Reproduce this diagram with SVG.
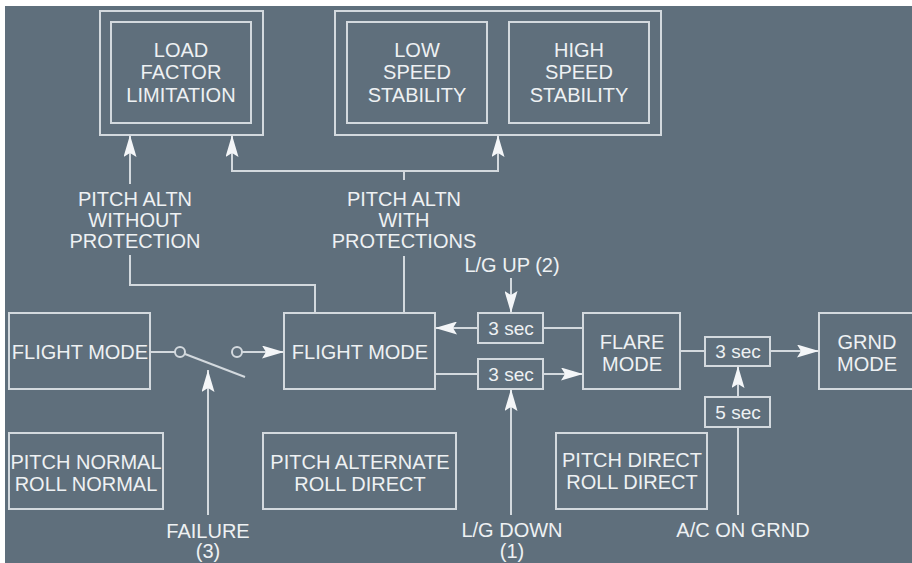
<svg xmlns="http://www.w3.org/2000/svg" width="912" height="563" viewBox="0 0 912 563">
<defs>
<style>
.bg{fill:#5f6f7c}
.box{fill:none;stroke:#d3d9de;stroke-width:2}
.ln{fill:none;stroke:#d3d9de;stroke-width:2}
.ah{fill:#f4f6f8;stroke:none}
text{font-family:"Liberation Sans",Arial,sans-serif;font-size:20px;fill:#eef1f3;text-anchor:middle;dominant-baseline:central}
.sm{font-size:19px}
</style>
<marker id="arr" viewBox="0 0 22 13" refX="22" refY="6.5" markerWidth="22" markerHeight="13" markerUnits="userSpaceOnUse" orient="auto">
<path d="M0,0 L22,6.5 L0,13 L4,6.5 Z" class="ah"/>
</marker>
</defs>
<rect x="0" y="0" width="912" height="563" fill="#ffffff"/>
<rect x="5" y="6" width="907" height="557" class="bg"/>

<g id="load-factor">
<rect x="100" y="11" width="163" height="124" class="box"/>
<rect x="111" y="22" width="140" height="101" class="box"/>
<text x="181" y="50">LOAD</text>
<text x="181" y="72">FACTOR</text>
<text x="181" y="95">LIMITATION</text>
</g>
<g id="stability">
<rect x="335" y="11" width="326" height="124" class="box"/>
</g>
<g id="low-speed">
<rect x="347" y="22" width="140" height="101" class="box"/>
<text x="417" y="50">LOW</text>
<text x="417" y="72">SPEED</text>
<text x="417" y="95">STABILITY</text>
</g>
<g id="high-speed">
<rect x="509" y="22" width="140" height="101" class="box"/>
<text x="579" y="50">HIGH</text>
<text x="579" y="72">SPEED</text>
<text x="579" y="95">STABILITY</text>
</g>

<g id="flight-mode-normal">
<rect x="9" y="313" width="141" height="76" class="box"/>
<text x="80" y="352">FLIGHT MODE</text>
</g>
<g id="flight-mode-alt">
<rect x="284" y="313" width="151" height="76" class="box"/>
<text x="360" y="352">FLIGHT MODE</text>
</g>
<g id="flare-mode">
<rect x="583" y="313" width="97" height="76" class="box"/>
<text x="632" y="342">FLARE</text>
<text x="632" y="364">MODE</text>
</g>
<g id="grnd-mode">
<rect x="819" y="313" width="100" height="76" class="box"/>
<text x="867" y="342">GRND</text>
<text x="867" y="364">MODE</text>
</g>
<g id="timer-up">
<rect x="478" y="313" width="65" height="30" class="box"/>
<text x="511" y="328" class="sm">3 sec</text>
</g>
<g id="timer-down">
<rect x="478" y="359" width="65" height="30" class="box"/>
<text x="511" y="374" class="sm">3 sec</text>
</g>
<g id="timer-grnd">
<rect x="705" y="337" width="65" height="29" class="box"/>
<text x="738" y="351" class="sm">3 sec</text>
</g>
<g id="timer-5">
<rect x="705" y="397" width="65" height="30" class="box"/>
<text x="738" y="412" class="sm">5 sec</text>
</g>
<g id="pitch-normal">
<rect x="9" y="433" width="154" height="76" class="box"/>
<text x="86" y="462">PITCH NORMAL</text>
<text x="86" y="484">ROLL NORMAL</text>
</g>
<g id="pitch-alternate">
<rect x="263" y="433" width="193" height="76" class="box"/>
<text x="360" y="462">PITCH ALTERNATE</text>
<text x="360" y="484">ROLL DIRECT</text>
</g>
<g id="pitch-direct">
<rect x="556" y="433" width="151" height="76" class="box"/>
<text x="632" y="460">PITCH DIRECT</text>
<text x="632" y="482">ROLL DIRECT</text>
</g>

<g id="connectors">
<!-- without protection -->
<path d="M315,313 V285 H130 V255" class="ln"/>
<path d="M130,184 V135" class="ln" marker-end="url(#arr)"/>
<text x="135" y="199">PITCH ALTN</text>
<text x="135" y="220">WITHOUT</text>
<text x="135" y="241">PROTECTION</text>
<!-- with protections -->
<path d="M404,313 V256" class="ln"/>
<path d="M404,180 V171" class="ln"/>
<path d="M404,171 H232 V135" class="ln" marker-end="url(#arr)"/>
<path d="M404,171 H498 V135" class="ln" marker-end="url(#arr)"/>
<text x="404" y="199">PITCH ALTN</text>
<text x="404" y="220">WITH</text>
<text x="404" y="241">PROTECTIONS</text>
<!-- switch -->
<path d="M150,352 H175" class="ln"/>
<circle cx="180" cy="352" r="5" class="ln"/>
<path d="M185,354 L245,377" class="ln"/>
<circle cx="237" cy="352" r="5" class="ln"/>
<path d="M242,352 H284" class="ln" marker-end="url(#arr)"/>
<path d="M208,515 V370" class="ln" marker-end="url(#arr)"/>
<text x="208" y="531">FAILURE</text>
<text x="208" y="551">(3)</text>
<!-- flare back to flight -->
<path d="M583,328 H543" class="ln"/>
<path d="M478,328 H435" class="ln" marker-end="url(#arr)"/>
<path d="M511,278 V313" class="ln" marker-end="url(#arr)"/>
<text x="512" y="265">L/G UP (2)</text>
<!-- flight to flare -->
<path d="M435,374 H478" class="ln"/>
<path d="M543,374 H583" class="ln" marker-end="url(#arr)"/>
<path d="M511,515 V389" class="ln" marker-end="url(#arr)"/>
<text x="512" y="530">L/G DOWN</text>
<text x="512" y="551">(1)</text>
<!-- flare to ground -->
<path d="M680,351 H705" class="ln"/>
<path d="M770,351 H819" class="ln" marker-end="url(#arr)"/>
<path d="M738,397 V366" class="ln" marker-end="url(#arr)"/>
<path d="M738,427 V515" class="ln"/>
<text x="743" y="530">A/C ON GRND</text>
</g>
</svg>
